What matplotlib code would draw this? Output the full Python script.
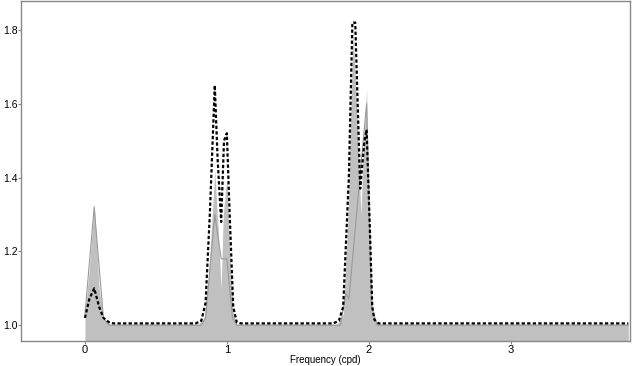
import matplotlib
matplotlib.use("Agg")
import matplotlib.pyplot as plt

plt.rcParams['font.family'] = ['Liberation Sans', 'DejaVu Sans']

# Dashed black line (frequency, value)
dash_f = [0, 0.03, 0.065, 0.10, 0.13, 0.17, 0.2, 0.78, 0.82, 0.85, 0.88, 0.915, 0.935,
          0.96, 0.98, 1.0, 1.02, 1.045, 1.07, 1.10, 1.75, 1.79, 1.82, 1.86, 1.885, 1.905,
          1.94, 1.97, 1.985, 2.005, 2.025, 2.04, 2.07, 3.83]
dash_v = [1.02, 1.07, 1.10, 1.05, 1.02, 1.008, 1.005, 1.005, 1.012, 1.06, 1.3, 1.65, 1.45,
          1.28, 1.50, 1.52, 1.3, 1.05, 1.008, 1.005, 1.005, 1.012, 1.05, 1.4, 1.82, 1.82,
          1.37, 1.50, 1.53, 1.3, 1.05, 1.015, 1.005, 1.005]

# Grey band upper edge
band_f = [0, 0.03, 0.065, 0.10, 0.13, 0.17, 0.8, 0.84, 0.87, 0.915, 0.94, 0.96, 0.975,
          1.0, 1.02, 1.045, 1.07, 1.78, 1.82, 1.855, 1.89, 1.93, 1.945, 1.965, 1.985,
          2.01, 2.03, 2.06, 3.83]
band_v = [1.03, 1.15, 1.33, 1.10, 1.02, 1.003, 1.003, 1.02, 1.12, 1.42, 1.25, 1.10, 1.3,
          1.40, 1.2, 1.03, 1.003, 1.003, 1.03, 1.3, 1.80, 1.45, 1.30, 1.5, 1.64,
          1.2, 1.03, 1.003, 1.003]

# Thin grey line
mean_f = [0, 0.065, 0.13, 0.17, 0.82, 0.85, 0.915, 0.96, 1.0, 1.04, 1.07, 1.80, 1.84, 1.86,
          1.985, 2.02, 2.06, 3.83]
mean_v = [1.03, 1.32, 1.02, 1.0, 1.0, 1.02, 1.30, 1.18, 1.18, 1.02, 1.0, 1.0, 1.087, 1.07,
          1.60, 1.05, 1.0, 1.0]

yticks = [1.0, 1.2, 1.4, 1.6, 1.8]
xticks = [0, 1, 2, 3]

fig = plt.figure(figsize=(6.4, 3.66), dpi=100)
ax = fig.add_axes([0.033, 0.068, 0.951, 0.929])

ax.fill_between(band_f, 0.9, band_v, color='#c0c0c0', linewidth=0)
ax.plot(mean_f, mean_v, color='#9a9a9a', linewidth=0.8)
ax.plot(dash_f, dash_v, color='black', linewidth=1.6, linestyle=(0, (1.5, 1)))

ax.set_xlim(-0.45, 3.84)
ax.set_ylim(0.957, 1.878)
ax.set_yticks(yticks)
ax.set_yticklabels([f"{t:.1f}" for t in yticks])
ax.set_xticks(xticks)
ax.set_xticklabels([str(t) for t in xticks])
ax.set_xlabel("Frequency (cpd)", fontsize=7, labelpad=0)
ax.tick_params(axis='x', labelsize=8, length=2, width=0.8, color='#888888', pad=1)
ax.tick_params(axis='y', labelsize=7.5, length=2, width=0.8, color='#888888', pad=0.5)
for s in ax.spines.values():
    s.set_color('#888888')
    s.set_linewidth(1.0)

fig.savefig("out.png", dpi=100)
